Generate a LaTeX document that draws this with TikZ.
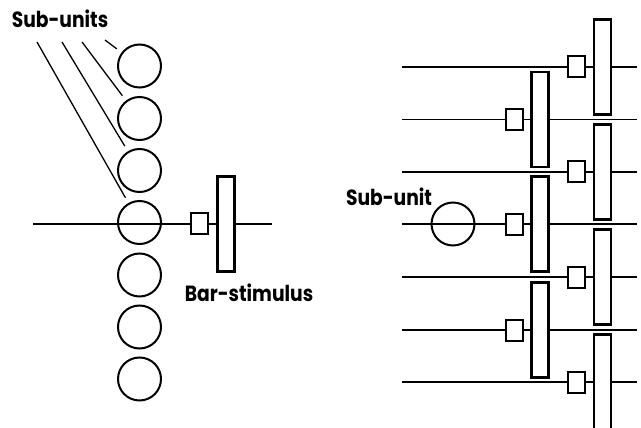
\documentclass[tikz,border=0pt]{standalone}
\usepackage{fontspec}
\setmainfont{Poppins}
\newfontfamily\labfont[FakeStretch=0.85]{Poppins Bold}
\begin{document}
\begin{tikzpicture}[x=1pt,y=-1pt,
  unit/.style={circle,draw,line width=2pt,minimum size=43pt,inner sep=0pt},
  sq/.style={rectangle,draw,fill=white,line width=2pt,minimum width=17pt,minimum height=21pt,inner sep=0pt},
  bar/.style={rectangle,draw,fill=white,line width=2.2pt,minimum width=17pt,minimum height=95pt,inner sep=0pt},
  wire/.style={line width=1.4pt},
  leader/.style={line width=1.3pt,shorten >=6pt},
  lab/.style={font=\labfont\fontsize{22}{22}\selectfont,inner sep=0pt}]
\useasboundingbox (0,0) rectangle (641,428);
% ---------- left panel ----------
\coordinate (la) at (33,224);
\coordinate (ra) at (272,224);
\draw[wire] (la) -- (ra);
\foreach \i/\y in {1/66,2/118.5,3/170.5,4/222.5,5/275,6/327,7/379}{
  \node[unit] (c\i) at (139.5,\y) {};
}
\node[sq] (lsq) at (199.5,223.5) {};
\node[bar] (lbar) at (226,224) {};
\node[lab] (subs) at (60,19) {Sub-units};
\node[lab] (bst) at (249,292.5) {Bar-stimulus};
\coordinate (s1) at (105,40);
\coordinate (s2) at (82,42);
\coordinate (s3) at (62,42);
\coordinate (s4) at (37,42);
\foreach \i in {1,2,3,4}{ \draw[leader] (s\i) -- (c\i); }
% ---------- right panel ----------
\foreach \i/\y in {1/67,2/119.5,3/172,4/224,5/277,6/330,7/382}{
  \coordinate (wl\i) at (402,\y);
  \coordinate (wr\i) at (637,\y);
  \draw[wire] (wl\i) -- (wr\i);
}
\node[unit] (su) at (453,224) {};
\node[lab] (sul) at (389,197) {Sub-unit};
% right column
\foreach \i/\y in {1/67,3/172,5/277,7/382}{
  \node[sq] (rs\i) at (576.5,\y) {};
  \node[bar] (rb\i) at (602.5,\y) {};
}
% left column
\foreach \i/\y in {2/119.5,4/224,6/330}{
  \node[sq] (ls\i) at (514.5,\y) {};
  \node[bar] (lb\i) at (540,\y) {};
}
\end{tikzpicture}
\end{document}
